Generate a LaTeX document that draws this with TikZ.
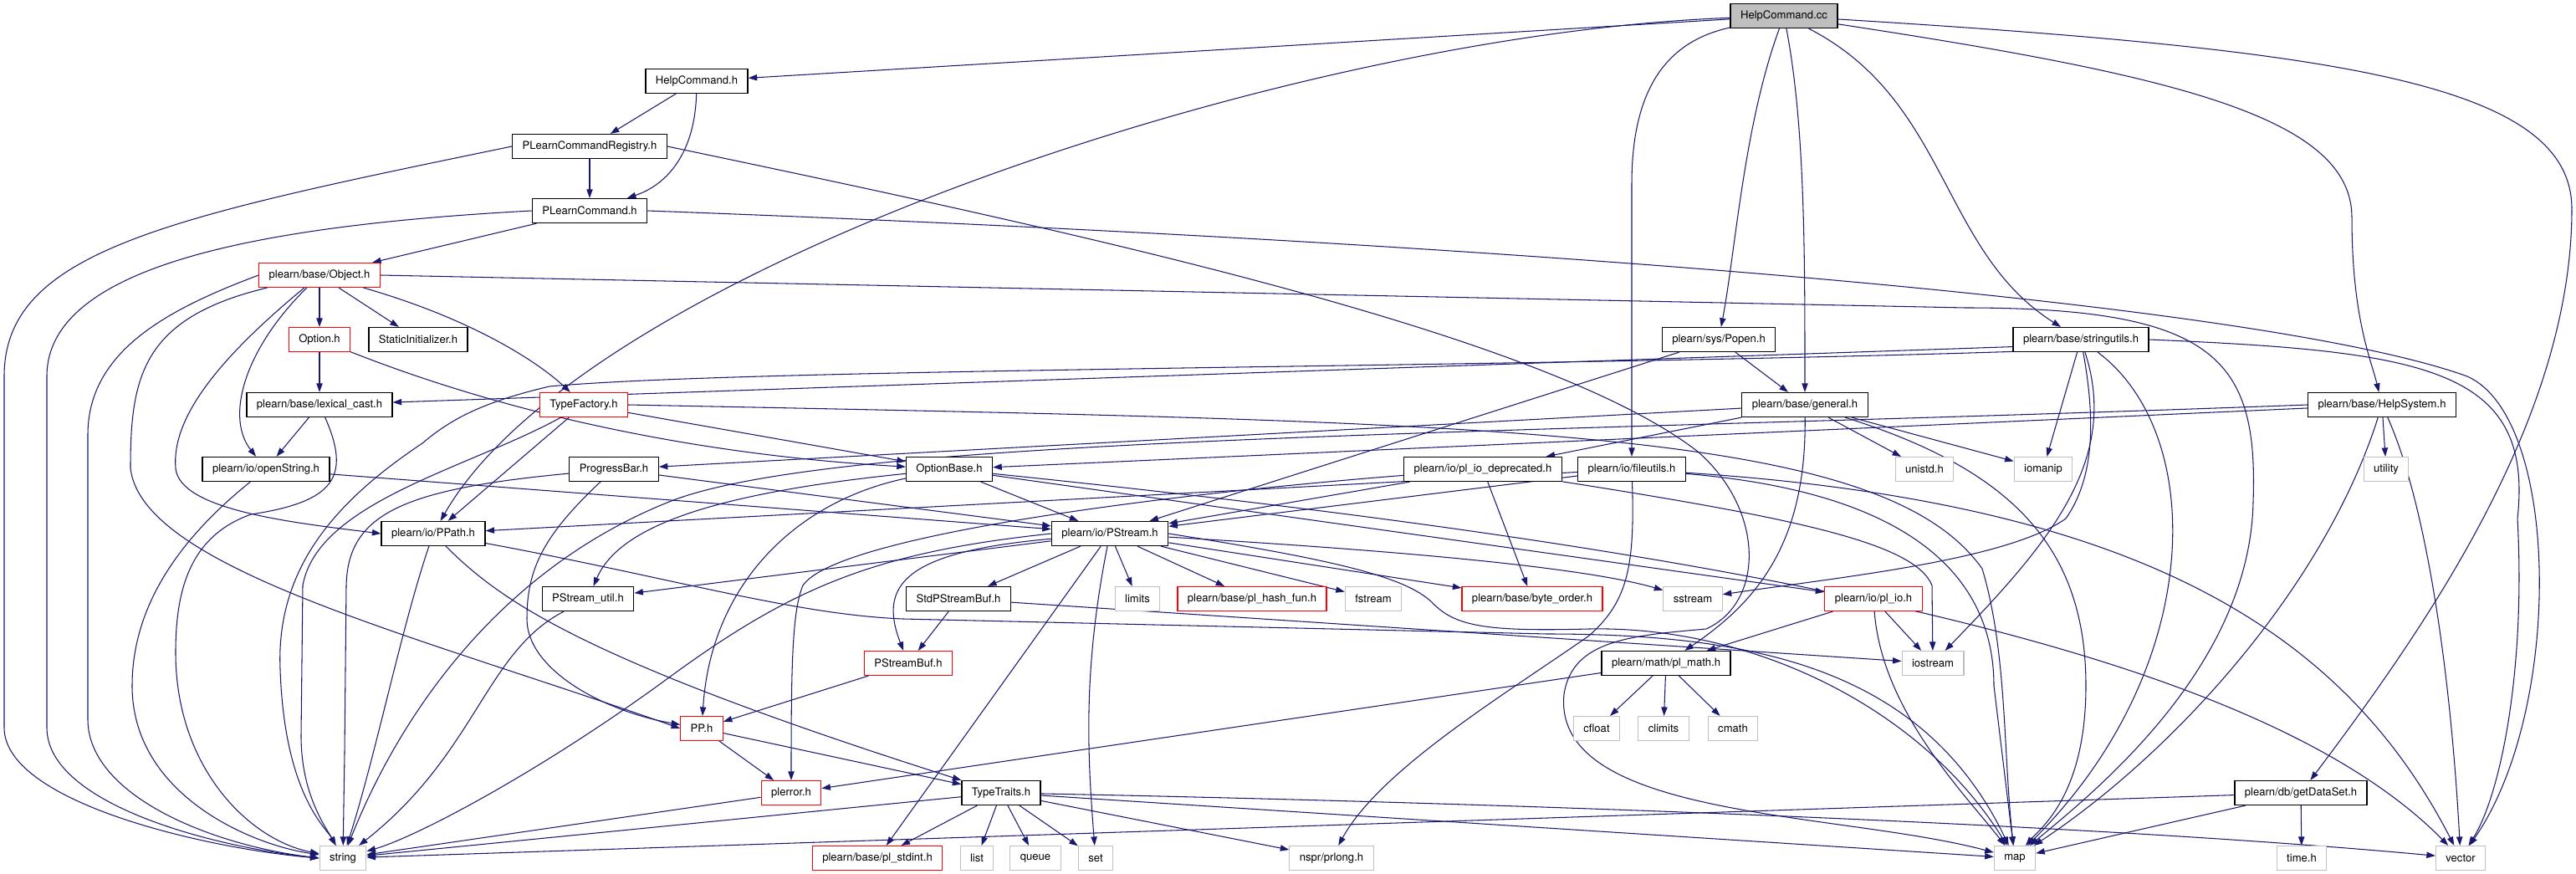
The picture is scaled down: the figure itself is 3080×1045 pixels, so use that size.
\documentclass[tikz,border=0pt]{standalone}
\usepackage{fontspec}
\setmainfont{TeX Gyre Heros}
\usetikzlibrary{arrows.meta}
\usetikzlibrary{backgrounds}
\definecolor{edgeblue}{RGB}{25,25,112}
\definecolor{sysgrey}{RGB}{191,191,191}
\definecolor{trunred}{RGB}{255,0,0}

\begin{document}
\begin{tikzpicture}[x=0.025cm, y=-0.025cm,
    file/.style={draw=black, line width=0.9pt, fill=white, inner xsep=8.5pt, inner ysep=0pt,
      minimum height=20.6pt, font=\fontsize{9.3}{11}\selectfont},
    redfile/.style={file, draw=trunred, line width=0.8pt},
    sysfile/.style={file, draw=sysgrey, line width=0.8pt},
    rootfile/.style={file, fill=sysgrey},
    dep/.style={draw=edgeblue, line width=0.75pt, -{Triangle[length=7.5pt,width=5.2pt]}}]
  \useasboundingbox (0,0) rectangle (3080,1045);

  % rank 0 to 2
  \node [rootfile] (cc) at (2133,19) {HelpCommand.cc};
  \node [file] (hch) at (833,97) {HelpCommand.h};
  \node [file] (reg) at (705,175) {PLearnCommandRegistry.h};
  \node [file] (plc) at (705,252) {PLearnCommand.h};
  \node [redfile] (obj) at (382,329) {plearn/base/Object.h};

  % rank 5 and 6
  \node [redfile] (opt) at (382,406) {Option.h};
  \node [file] (sinit) at (500,406) {StaticInitializer.h};
  \node [file] (popen) at (2055,406) {plearn/sys/Popen.h};
  \node [file] (sutil) at (2488,406) {plearn/base/stringutils.h};
  \node [file] (lcast) at (382,484) {plearn/base/lexical\_cast.h};
  \node [redfile] (tfac) at (698,484) {TypeFactory.h};
  \node [file] (gen) at (2158,484) {plearn/base/general.h};
  \node [file] (hsys) at (2848,484) {plearn/base/HelpSystem.h};

  % rank 7
  \node [file] (ostr) at (318,561) {plearn/io/openString.h};
  \node [file] (pbar) at (734,561) {ProgressBar.h};
  \node [file] (obase) at (1135,561) {OptionBase.h};
  \node [file] (pliod) at (1773,561) {plearn/io/pl\_io\_deprecated.h};
  \node [file] (futil) at (1951,561) {plearn/io/fileutils.h};
  \node [sysfile] (unistd) at (2301,561) {unistd.h};
  \node [sysfile] (iomanip) at (2443,561) {iomanip};
  \node [sysfile] (utility) at (2853,561) {utility};

  % rank 8 to 10
  \node [file] (ppath) at (518,638) {plearn/io/PPath.h};
  \node [file] (pstream) at (1327,638) {plearn/io/PStream.h};
  \node [file] (psutil) at (703,716) {PStream\_util.h};
  \node [file] (spbuf) at (1146,716) {StdPStreamBuf.h};
  \node [sysfile] (limits) at (1360,716) {limits};
  \node [redfile] (hash) at (1497,716) {plearn/base/pl\_hash\_fun.h};
  \node [sysfile] (fstream) at (1642,716) {fstream};
  \node [redfile] (border) at (1832,716) {plearn/base/byte\_order.h};
  \node [sysfile] (sstream) at (2024,716) {sstream};
  \node [redfile] (plio) at (2240,716) {plearn/io/pl\_io.h};
  \node [redfile] (psbuf) at (1086,793) {PStreamBuf.h};
  \node [file] (plmath) at (1992,793) {plearn/math/pl\_math.h};
  \node [sysfile] (iostream) at (2311,793) {iostream};

  % rank 11 to 13
  \node [redfile] (pp) at (839,871) {PP.h};
  \node [sysfile] (cfloat) at (1909,871) {cfloat};
  \node [sysfile] (climits) at (1989,871) {climits};
  \node [sysfile] (cmath) at (2072,871) {cmath};
  \node [redfile] (plerr) at (946,948) {plerror.h};
  \node [file] (ttraits) at (1197,948) {TypeTraits.h};
  \node [file] (gds) at (2751,948) {plearn/db/getDataSet.h};
  \node [sysfile] (string) at (410,1026) {string};
  \node [redfile] (stdint) at (1049,1026) {plearn/base/pl\_stdint.h};
  \node [sysfile] (list) at (1168,1026) {list};
  \node [sysfile] (queue) at (1238,1026) {queue};
  \node [sysfile] (set) at (1310,1026) {set};
  \node [sysfile] (prlong) at (1592,1026) {nspr/prlong.h};
  \node [sysfile] (map) at (2409,1026) {map};
  \node [sysfile] (time) at (2752,1026) {time.h};
  \node [sysfile] (vector) at (2942,1026) {vector};

  \begin{scope}[on background layer]
    % HelpCommand.cc
    \draw [dep] (cc) -- (hch);
    \draw [dep] (cc) .. controls (1550,40) and (700,320) .. (ppath);
    \draw [dep] (cc) .. controls (1990,50) and (1951,110) .. (1951,220) -- (futil);
    \draw [dep] (cc) .. controls (2085,150) and (2075,300) .. (popen);
    \draw [dep] (cc) .. controls (2158,150) and (2158,300) .. (gen);
    \draw [dep] (cc) .. controls (2330,120) and (2320,300) .. (sutil);
    \draw [dep] (cc) .. controls (2600,90) and (2812,140) .. (2812,260) .. controls (2812,380) and (2835,430) .. (hsys);
    \draw [dep] (cc) .. controls (2800,60) and (3075,100) .. (3075,250) .. controls (3075,500) and (2900,750) .. (gds);

    % commands
    \draw [dep] (hch) -- (reg);
    \draw [dep] (hch) .. controls (831,180) and (800,220) .. (plc);
    \draw [dep] (reg) -- (plc);
    \draw [dep] (reg.west) .. controls (200,260) and (5,300) .. (5,450) -- (5,870) .. controls (5,960) and (250,1015) .. (string.west);
    \draw [dep] (reg.east) .. controls (1300,280) and (1850,400) .. (2030,540) .. controls (2110,610) and (2110,720) .. (2040,752)
      .. controls (1950,760) and (1880,765) .. (1870,830) .. controls (1855,980) and (2200,970) .. (map);
    \draw [dep] (plc) -- (obj);
    \draw [dep] (plc.west) .. controls (300,270) and (56,320) .. (56,450) -- (56,870) .. controls (56,960) and (250,1012) .. (string.west);
    \draw [dep] (plc.east) .. controls (1800,290) and (2700,360) .. (2950,450) .. controls (3062,500) and (3065,850) .. (vector);

    % Object.h
    \draw [dep] (obj) -- (opt);
    \draw [dep] (obj) -- (sinit);
    \draw [dep] (obj) .. controls (560,380) and (640,430) .. (tfac);
    \draw [dep] (obj) .. controls (290,420) and (270,500) .. (ostr);
    \draw [dep] (obj) .. controls (260,430) and (205,500) .. (210,560) .. controls (215,610) and (350,625) .. (ppath.west);
    \draw [dep] (obj) .. controls (170,380) and (156,450) .. (156,560) .. controls (170,680) and (500,760) .. (pp.west);
    \draw [dep] (obj.west) .. controls (200,370) and (105,420) .. (105,520) -- (105,860) .. controls (105,950) and (250,1010) .. (string.west);
    \draw [dep] (obj.east) -- (2350,368) .. controls (2650,368) and (2700,430) .. (2694,600) .. controls (2690,800) and (2500,950) .. (map);
    \draw [dep] (opt) -- (lcast);
    \draw [dep] (opt) .. controls (620,500) and (850,545) .. (obase);
    \draw [dep] (lcast) -- (ostr);
    \draw [dep] (lcast) .. controls (420,570) and (400,600) .. (300,615) .. controls (230,640) and (210,700) .. (210,780) .. controls (210,920) and (300,1005) .. (string);

    % TypeFactory.h, openString.h, ProgressBar.h
    \draw [dep] (tfac) -- (ppath);
    \draw [dep] (tfac) -- (obase);
    \draw [dep] (tfac) .. controls (560,560) and (380,600) .. (362,700) -- (360,880) .. controls (360,950) and (390,990) .. (string);
    \draw [dep] (tfac.east) .. controls (1800,505) and (2250,510) .. (2370,680) .. controls (2400,780) and (2395,900) .. (map);
    \draw [dep] (ostr) -- (pstream);
    \draw [dep] (ostr) .. controls (220,640) and (158,720) .. (158,820) .. controls (158,950) and (300,1010) .. (string);
    \draw [dep] (pbar) -- (pstream);
    \draw [dep] (pbar) .. controls (480,585) and (416,615) .. (414,700) -- (412,900) -- (string);
    \draw [dep] (pbar) .. controls (650,640) and (630,680) .. (630,740) .. controls (630,800) and (720,850) .. (pp);

    % OptionBase.h, HelpSystem.h
    \draw [dep] (obase) -- (pstream);
    \draw [dep] (obase) .. controls (850,590) and (740,630) .. (psutil);
    \draw [dep] (obase) .. controls (950,600) and (850,700) .. (pp);
    \draw [dep] (obase) -- (plio);
    \draw [dep] (obase) .. controls (2100,660) and (2700,780) .. (vector);
    \draw [dep] (hsys) -- (obase);
    \draw [dep] (hsys.west) .. controls (1800,520) and (1000,520) .. (800,600) .. controls (600,680) and (480,850) .. (string);
    \draw [dep] (hsys) -- (utility);
    \draw [dep] (hsys) .. controls (2780,700) and (2600,900) .. (map);
    \draw [dep] (hsys) .. controls (2900,600) and (2930,800) .. (vector);

    % stringutils.h
    \draw [dep] (sutil.186) -- (lcast);
    \draw [dep] (sutil.190) .. controls (1800,440) and (900,440) .. (657,462) .. controls (580,480) and (540,500) .. (505,530)
      .. controls (400,600) and (330,680) .. (335,800) .. controls (340,950) and (390,990) .. (string);
    \draw [dep] (sutil) -- (iomanip);
    \draw [dep] (sutil) .. controls (2505,500) and (2505,570) .. (2470,620) .. controls (2400,670) and (2200,690) .. (sstream);
    \draw [dep] (sutil) .. controls (2535,550) and (2450,650) .. (iostream);
    \draw [dep] (sutil) .. controls (2640,520) and (2636,800) .. (map);
    \draw [dep] (sutil.east) .. controls (2900,420) and (3030,440) .. (3010,620) .. controls (3020,800) and (2990,950) .. (vector);

    % general.h, Popen.h
    \draw [dep] (gen) -- (pbar);
    \draw [dep] (gen) -- (pliod);
    \draw [dep] (gen) -- (unistd);
    \draw [dep] (gen) -- (iomanip);
    \draw [dep] (gen) .. controls (2160,650) and (2100,720) .. (plmath);
    \draw [dep] (gen) .. controls (2400,560) and (2494,650) .. (2494,820) .. controls (2494,950) and (2440,990) .. (map);
    \draw [dep] (popen) -- (gen);
    \draw [dep] (popen) -- (pstream);

    % pl_io_deprecated.h, fileutils.h
    \draw [dep] (pliod) -- (pstream);
    \draw [dep] (pliod) -- (border);
    \draw [dep] (pliod) .. controls (2150,620) and (2290,650) .. (2310,700) -- (iostream);
    \draw [dep] (pliod) .. controls (1400,590) and (1000,640) .. (960,700) .. controls (947,730) and (946,800) .. (plerr);
    \draw [dep] (futil) -- (ppath);
    \draw [dep] (futil) -- (pstream);
    \draw [dep] (futil) .. controls (1955,680) and (1945,720) .. (1900,760) .. controls (1800,830) and (1650,920) .. (prlong);
    \draw [dep] (futil) .. controls (2300,590) and (2384,700) .. (2384,820) -- (map);
    \draw [dep] (futil) .. controls (2550,600) and (2800,750) .. (vector);

    % PStream.h
    \draw [dep] (pstream) -- (spbuf);
    \draw [dep] (pstream) -- (limits);
    \draw [dep] (pstream) -- (hash);
    \draw [dep] (pstream) -- (fstream);
    \draw [dep] (pstream) -- (border);
    \draw [dep] (pstream) .. controls (1700,660) and (1900,680) .. (sstream);
    \draw [dep] (pstream) .. controls (1080,660) and (1050,700) .. (psbuf);
    \draw [dep] (pstream) -- (stdint);
    \draw [dep] (pstream) .. controls (1295,800) and (1300,900) .. (set);
    \draw [dep] (pstream) -- (psutil);
    \draw [dep] (pstream.west) .. controls (1050,660) and (950,700) .. (800,810) .. controls (650,920) and (500,1000) .. (string);
    \draw [dep] (pstream.east) .. controls (1600,670) and (1680,690) .. (1712,720) .. controls (1740,750) and (1780,755) .. (1900,752)
      .. controls (2100,748) and (2300,850) .. (map);

    % PPath.h and the lower files
    \draw [dep] (ppath) .. controls (480,750) and (450,900) .. (string);
    \draw [dep] (ppath) .. controls (600,720) and (700,790) .. (ttraits);
    \draw [dep] (ppath) .. controls (800,690) and (950,735) .. (1080,740) -- (1850,758) .. controls (2100,758) and (2300,800) .. (map);
    \draw [dep] (psutil) .. controls (580,780) and (570,900) .. (string);
    \draw [dep] (spbuf) -- (psbuf);
    \draw [dep] (spbuf) -- (iostream);
    \draw [dep] (psbuf) -- (pp);
    \draw [dep] (pp) -- (plerr);
    \draw [dep] (pp) -- (ttraits);
    \draw [dep] (plerr) -- (string);
    \draw [dep] (plmath) -- (plerr);
    \draw [dep] (plmath) -- (cfloat);
    \draw [dep] (plmath) -- (climits);
    \draw [dep] (plmath) -- (cmath);
    \draw [dep] (plio) -- (plmath);
    \draw [dep] (plio) -- (iostream);
    \draw [dep] (plio) .. controls (2250,850) and (2350,950) .. (map);

    % TypeTraits.h, getDataSet.h
    \draw [dep] (ttraits) -- (string);
    \draw [dep] (ttraits) -- (stdint);
    \draw [dep] (ttraits) -- (list);
    \draw [dep] (ttraits) -- (queue);
    \draw [dep] (ttraits) -- (set);
    \draw [dep] (ttraits) -- (prlong);
    \draw [dep] (ttraits) -- (map);
    \draw [dep] (ttraits) .. controls (1800,960) and (2500,985) .. (vector);
    \draw [dep] (gds) -- (string);
    \draw [dep] (gds) -- (map);
    \draw [dep] (gds) -- (time);
  \end{scope}
\end{tikzpicture}
\end{document}
